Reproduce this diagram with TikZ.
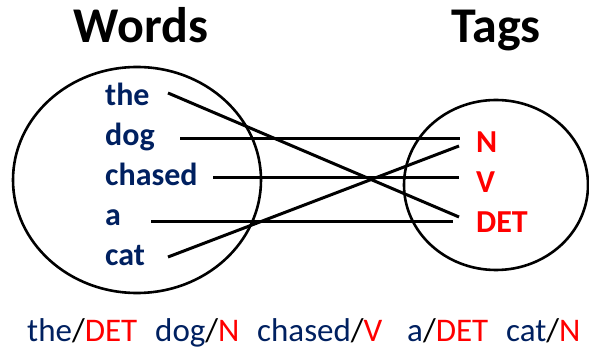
\documentclass[tikz,border=0pt]{standalone}
\usepackage{fontspec}
\setmainfont{Carlito}
\definecolor{wordblue}{RGB}{0,32,96}
\definecolor{tagred}{RGB}{255,0,0}
\tikzset{
  settitle/.style={anchor=base, font=\fontsize{50}{54}\selectfont\bfseries, text=black, inner sep=0pt},
  wordlabel/.style={anchor=base west, font=\fontsize{32}{36}\selectfont\bfseries, text=wordblue, inner sep=0pt},
  taglabel/.style={anchor=base west, font=\fontsize{32}{36}\selectfont\bfseries, text=tagred, inner sep=0pt},
  pairlabel/.style={anchor=base west, font=\fontsize{33}{37}\selectfont, inner sep=0pt},
  setring/.style={draw=black, line width=2.6pt},
  link/.style={draw=black, line width=3pt},
}
\newcommand{\wordtag}[2]{\textcolor{wordblue}{#1}/\textcolor{tagred}{#2}}
\begin{document}
\begin{tikzpicture}[x=1pt,y=-1pt]
  \useasboundingbox (0,0) rectangle (589,352);

  % titles
  \node[settitle] (wtitle) at (141,43) {Words};
  \node[settitle] (ttitle) at (496,43) {Tags};

  % the two sets
  \draw[setring] (137,180) ellipse [x radius=124, y radius=113];
  \draw[setring] (496,185) ellipse [x radius=92, y radius=85];

  % words
  \node[wordlabel] (the)    at (105,106) {the};
  \node[wordlabel] (dog)    at (105,146) {dog};
  \node[wordlabel] (chased) at (105,186) {chased};
  \node[wordlabel] (a)      at (105,226) {a};
  \node[wordlabel] (cat)    at (105,266) {cat};

  % tags
  \node[taglabel] (N)   at (476,153) {N};
  \node[taglabel] (V)   at (476,193) {V};
  \node[taglabel] (DET) at (476,233) {DET};

  % line end points beside each label
  \coordinate (the-o)    at (168,93);
  \coordinate (dog-o)    at (180,139);
  \coordinate (chased-o) at (213,178);
  \coordinate (a-o)      at (151,222);
  \coordinate (cat-o)    at (168,257);
  \coordinate (N-a)      at (460,139);
  \coordinate (N-b)      at (459,146);
  \coordinate (V-a)      at (459,178);
  \coordinate (DET-a)    at (459,217);
  \coordinate (DET-b)    at (453,222);

  % word-to-tag links
  \draw[link] (the-o) -- (DET-a);
  \draw[link] (dog-o) -- (N-a);
  \draw[link] (chased-o) -- (V-a);
  \draw[link] (a-o) -- (DET-b);
  \draw[link] (cat-o) -- (N-b);

  % tagged sentence
  \node[pairlabel] (s1) at (27,342)  {\wordtag{the}{DET}};
  \node[pairlabel] (s2) at (155,342) {\wordtag{dog}{N}};
  \node[pairlabel] (s3) at (257,342) {\wordtag{chased}{V}};
  \node[pairlabel] (s4) at (407,342) {\wordtag{a}{DET}};
  \node[pairlabel] (s5) at (506,342) {\wordtag{cat}{N}};
\end{tikzpicture}
\end{document}
